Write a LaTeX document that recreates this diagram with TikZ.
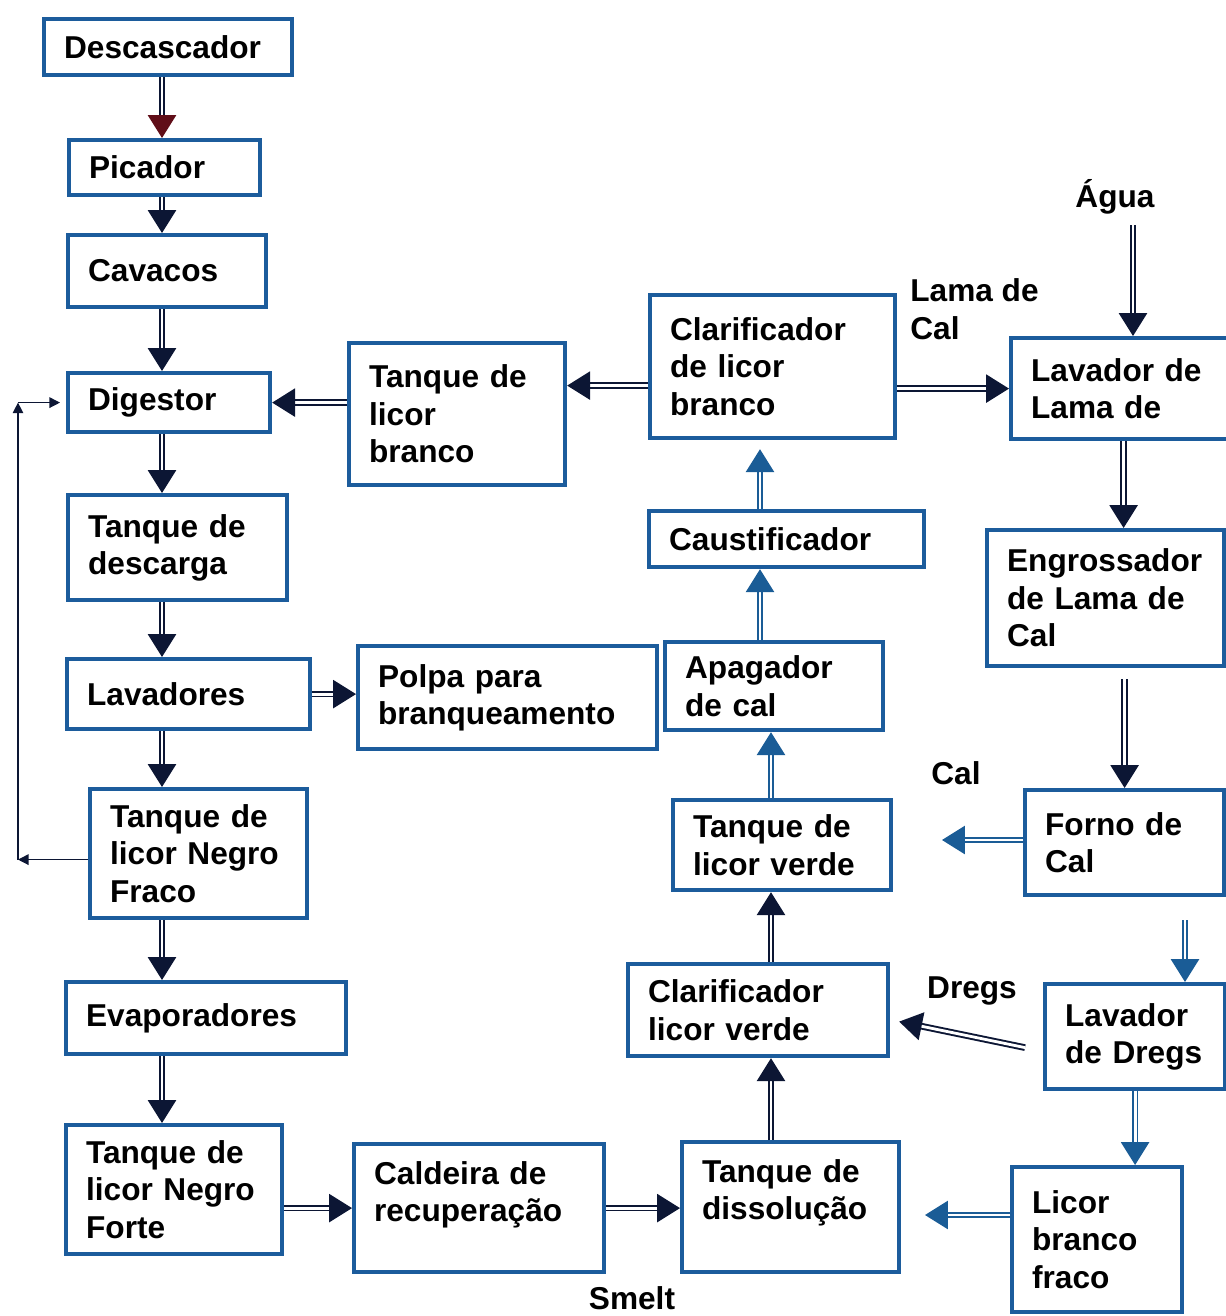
\documentclass[tikz,border=0pt]{standalone}
\usepackage{fontspec}
\setmainfont{Liberation Sans}
\usetikzlibrary{arrows.meta, positioning, calc}
\definecolor{boxblue}{RGB}{28,92,156}
\definecolor{flowdark}{RGB}{12,22,52}
\definecolor{flowblue}{RGB}{26,92,150}
\definecolor{headred}{RGB}{96,14,24}

\begin{document}
\begin{tikzpicture}[
    x=0.02cm, y=-0.02cm,
    font=\fontsize{18}{21.3}\selectfont\bfseries,
    unit/.style={rectangle, draw=boxblue, line width=2.4pt, fill=white,
                anchor=north west, align=left, inner xsep=0.4cm, inner ysep=0pt},
    flow/.style={draw=flowdark, double, double distance=1.6pt, line width=1.1pt,
                -{Triangle[length=13pt, width=16pt]}},
    blueflow/.style={flow, draw=flowblue},
    redflow/.style={flow, -{Triangle[length=13pt, width=16pt, color=headred]}},
    thinflow/.style={draw=flowdark, line width=0.7pt, -{Triangle[length=6pt, width=6pt]}},
    tag/.style={inner sep=0pt, align=left}
]
\useasboundingbox (0,0) rectangle (1225,1316);

% left column
\node[unit, text width=4.16cm, minimum height=1.12cm] (desc) at (42,17) {Descascador};
\node[unit, text width=3.02cm, minimum height=1.10cm] (picador) at (67,138) {Picador};
\node[unit, text width=3.16cm, minimum height=1.44cm] (cavacos) at (66,233) {Cavacos};
\node[unit, text width=3.24cm, minimum height=1.18cm] (digestor) at (66,371) {Digestor};
\node[unit, text width=3.58cm, minimum height=2.10cm] (descarga) at (66,493) {Tanque de\\descarga};
\node[unit, text width=4.06cm, minimum height=1.40cm] (lavadores) at (65,657) {Lavadores};
\node[unit, text width=3.54cm, minimum height=2.58cm] (fraco) at (88,787) {Tanque de\\licor Negro\\Fraco};
\node[unit, text width=4.80cm, minimum height=1.44cm] (evap) at (64,980) {Evaporadores};
\node[unit, text width=3.52cm, minimum height=2.58cm] (forte) at (64,1123) {Tanque de\\licor Negro\\Forte};

% middle
\node[unit, text width=3.52cm, minimum height=2.84cm] (tbranco) at (347,341) {Tanque de\\licor\\branco};
\node[unit, text width=5.18cm, minimum height=2.06cm] (polpa) at (356,644) {Polpa para\\branqueamento};
\node[unit, text width=4.20cm, minimum height=2.56cm, text depth=1.41cm] (caldeira) at (352,1142) {Caldeira de\\recuperação};
\node[unit, text width=4.10cm, minimum height=2.86cm] (clbranco) at (648,293) {Clarificador\\de licor\\branco};
\node[unit, text width=4.70cm, minimum height=1.12cm] (caust) at (647,509) {Caustificador};
\node[unit, text width=3.56cm, minimum height=1.76cm] (apagador) at (663,640) {Apagador\\de cal};
\node[unit, text width=3.56cm, minimum height=1.80cm] (tverde) at (671,798) {Tanque de\\licor verde};
\node[unit, text width=4.40cm, minimum height=1.84cm] (clverde) at (626,962) {Clarificador\\licor verde};
\node[unit, text width=3.54cm, minimum height=2.60cm, text depth=1.45cm] (dissol) at (680,1140) {Tanque de\\dissolução};

% right column
\node[unit, text width=3.70cm, minimum height=2.02cm] (lama) at (1009,336) {Lavador de\\Lama de};
\node[unit, text width=3.94cm, minimum height=2.72cm] (engross) at (985,528) {Engrossador\\de Lama de\\Cal};
\node[unit, text width=3.18cm, minimum height=2.10cm] (forno) at (1023,788) {Forno de\\Cal};
\node[unit, text width=2.80cm, minimum height=2.10cm] (ldregs) at (1043,982) {Lavador\\de Dregs};
\node[unit, text width=2.60cm, minimum height=2.90cm] (lbf) at (1010,1165) {Licor\\branco\\fraco};

% free labels
\node[tag] (agua) at (1115,197) {Água};
\node[tag, anchor=west] (lamacal) at (910,309) {Lama de\\Cal};
\node[tag] (cal) at (956,773) {Cal};
\node[tag] (dregs) at (972,991) {Dregs};
\node[tag] (smelt) at (632,1298) {Smelt};

\coordinate (leftcol) at (162,0);
\coordinate (fbcol) at (18,0);
\coordinate (midcol) at (771,0);
\coordinate (caucol) at (760,0);
\coordinate (aguaout) at (1133,225);
\coordinate (caltip) at (942,840);
\coordinate (dregsin) at (1185,920);
\coordinate (fraquetip) at (925,1215);

\draw[redflow] (leftcol |- desc.south) -- (leftcol |- picador.north);
\draw[flow] (leftcol |- picador.south) -- (leftcol |- cavacos.north);
\draw[flow] (leftcol |- cavacos.south) -- (leftcol |- digestor.north);
\draw[flow] (leftcol |- digestor.south) -- (leftcol |- descarga.north);
\draw[flow] (leftcol |- descarga.south) -- (leftcol |- lavadores.north);
\draw[flow] (leftcol |- lavadores.south) -- (leftcol |- fraco.north);
\draw[flow] (leftcol |- fraco.south) -- (leftcol |- evap.north);
\draw[flow] (leftcol |- evap.south) -- (leftcol |- forte.north);

\draw[flow] (lavadores.east) -- (lavadores.east -| polpa.west);
\draw[flow] (forte.east |- caldeira.west) -- (caldeira.west);
\draw[flow] (caldeira.east) -- (caldeira.east -| dissol.west);
\draw[flow] (tbranco.west |- digestor.east) -- (digestor.east);
\draw[flow] ([yshift=-0.38cm]clbranco.west) -- ([yshift=-0.38cm]clbranco.west -| tbranco.east);
\draw[flow] (clbranco.east |- lama.west) -- (lama.west);

% return of weak black liquor
\draw[thinflow] ([yshift=-0.12cm]fraco.west) -- ([yshift=-0.12cm]fbcol |- fraco.west);
\draw[thinflow] ([yshift=-0.12cm]fbcol |- fraco.west) -- (fbcol |- digestor.west);
\draw[thinflow] (fbcol |- digestor.west) -- ([xshift=-0.12cm]digestor.west);

\draw[flow] (midcol |- dissol.north) -- (midcol |- clverde.south);
\draw[flow] (midcol |- clverde.north) -- (midcol |- tverde.south);
\draw[blueflow] (midcol |- tverde.north) -- (midcol |- apagador.south);
\draw[blueflow] (caucol |- apagador.north) -- (caucol |- caust.south);
\draw[blueflow] (caucol |- caust.north) -- ([yshift=-0.18cm]caucol |- clbranco.south);

\draw[flow] (aguaout) -- (aguaout |- lama.north);
\draw[flow] (lama.south) -- (lama.south |- engross.north);
\draw[flow] ([yshift=-0.22cm]forno.north |- engross.south) -- (forno.north);
\draw[blueflow] (forno.west |- caltip) -- (caltip);
\draw[blueflow] (dregsin) -- (dregsin |- ldregs.north);
\draw[flow] ([xshift=-0.36cm,yshift=-0.22cm]ldregs.west) -- ([xshift=0.18cm,yshift=0.3cm]clverde.east |- ldregs.west);
\draw[blueflow] (ldregs.south) -- (ldregs.south |- lbf.north);
\draw[blueflow] (lbf.west |- fraquetip) -- (fraquetip);

\end{tikzpicture}
\end{document}
